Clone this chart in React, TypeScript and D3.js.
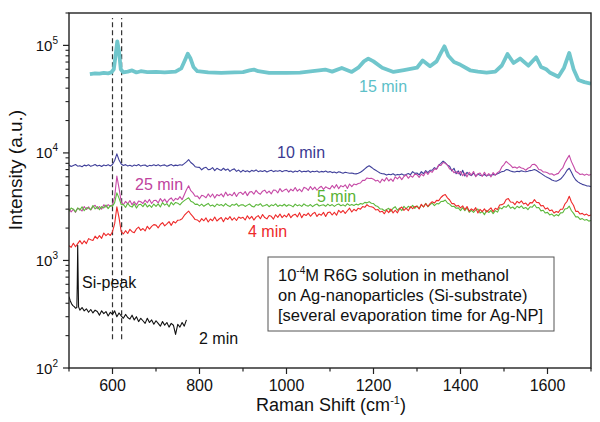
import React from 'react';
import * as d3 from 'd3';

// Raman shift grid for the thin spectra: 500, 505, ... 1700 (cm^-1)
const X_START = 500;
const X_STEP = 5;

const red4min = [
  1370,1325,1444,1342,1434,1530,1422,1519,1436,1596,1558,1533,1683,1593,1700,1606,1798,1701,1775,1707,
  1850,2200,3150,2500,1850,1764,1891,1781,1947,1853,1814,1965,2042,1905,1982,1881,2078,1956,2075,2155,
  2132,2009,2158,2246,2097,2185,2296,2119,2299,2231,2369,2380,2440,2620,2760,2880,2690,2560,2400,2380,
  2280,2450,2338,2486,2279,2428,2338,2536,2326,2428,2506,2295,2495,2404,2556,2367,2495,2354,2532,2464,
  2519,2377,2606,2438,2569,2375,2531,2612,2442,2675,2505,2435,2618,2573,2426,2662,2515,2701,2501,2636,
  2538,2726,2498,2634,2692,2541,2784,2500,2691,2618,2756,2576,2715,2801,2567,2707,2632,2800,2563,2785,
  2818,2648,2805,2632,2930,2782,2915,2736,2899,3063,2823,2989,2891,3060,3000,3170,3120,3300,3180,3160,
  3100,2950,2980,2820,2870,2716,2933,2783,3003,2765,2929,2774,3028,3138,2920,3060,2899,3162,3029,3172,
  3193,3010,3329,3141,3370,3177,3376,3512,3420,3620,3600,3850,4020,4100,3820,3650,3380,3380,3200,3250,
  3087,3224,2968,3171,2870,3019,2911,3095,2765,2987,2842,3021,2823,2949,3082,2832,3060,2979,3276,3303,
  3380,3680,3760,3500,3480,3300,3540,3420,3580,3350,3420,3240,3450,3430,3680,3460,3450,3220,3240,3010,
  3080,2900,2950,2760,2850,2800,2990,3000,3350,3550,3950,3500,3240,2860,2860,2700,2740,2640,2700,2600,2650,
];

const green5min = [
  2862,3078,3000,2831,3080,2940,3161,2899,3091,3070,2959,3244,3009,3172,2966,3162,3079,3276,3036,3234,
  3200,3450,4250,3800,3300,3315,3115,3402,3203,3133,3359,3069,3295,3327,3165,3397,3143,3277,3120,3348,
  3185,3360,3144,3451,3267,3378,3159,3470,3283,3463,3409,3285,3468,3600,3720,3830,3560,3480,3320,3340,
  3220,3340,3190,3300,3390,3210,3280,3160,3350,3250,3310,3200,3380,3240,3170,3320,3260,3370,3190,3290,
  3300,3180,3270,3350,3200,3140,3310,3260,3370,3190,3240,3320,3160,3290,3230,3360,3180,3280,3210,3330,
  3190,3300,3250,3150,3340,3220,3290,3180,3360,3240,3200,3310,3170,3280,3350,3210,3260,3300,3190,3340,
  3220,3310,3180,3290,3350,3230,3300,3200,3370,3250,3320,3240,3340,3280,3390,3340,3470,3430,3520,3400,
  3380,3220,3170,3010,3010,2900,2980,3054,2861,3055,3161,2934,3070,2902,3193,3023,3193,3084,3255,3051,
  3213,3043,3286,3146,3392,3153,3303,3416,3234,3380,3360,3530,3540,3650,3420,3340,3180,3190,3060,3080,
  2910,3099,2901,3087,2803,2929,2794,2946,3010,2764,2856,2665,2922,2792,2915,2726,2907,2813,3099,3020,
  3180,3120,3290,3060,3140,3010,3190,3090,3220,3040,3110,2970,3160,3130,3310,3090,3110,2890,2930,2760,
  2800,2650,2700,2580,2670,2600,2770,2780,3010,3040,3200,2900,2740,2540,2540,2410,2450,2370,2400,2320,2350,
];

const magenta25min = [
  3016,2829,2993,2803,3057,3015,2882,3170,2975,3145,2947,3149,3259,3027,3169,2997,3299,3125,3302,3191,
  3300,3900,6100,4700,3500,3298,3546,3352,3602,3302,3519,3287,3574,3515,3385,3640,3440,3696,3389,3611,
  3621,3424,3762,3528,3726,3451,3687,3814,3573,3774,3680,3920,3675,4080,4550,4950,4450,4250,3950,3980,
  3744,4032,3968,3826,4156,3894,4146,3802,4096,3991,4166,3898,4318,4007,4144,3994,4297,3940,4244,4301,
  4106,4372,4008,4318,4375,4134,4491,4248,4134,4406,4508,4219,4408,4159,4525,4495,4245,4658,4362,4510,
  4614,4314,4599,4433,4765,4415,4613,4352,4780,4702,4486,4871,4561,4808,4496,4744,4900,4584,4836,4707,
  4627,4981,4712,5069,4653,4963,4836,5051,4677,5141,4863,5130,5050,5200,5250,5560,5550,5850,5780,5800,
  5700,5480,5560,5280,5704,5464,5894,5481,5745,5439,5994,5742,6013,5640,6031,6248,5808,6146,5942,6344,
  6283,5920,6358,6111,6685,6304,6760,6600,7100,7050,7700,7650,8150,8000,7700,7100,7000,6550,6700,6400,
  6720,6134,6508,5988,6614,6223,6720,6014,6383,6499,6048,6615,6111,6426,5985,6562,6203,6560,6750,7400,
  7800,8350,8000,7700,7300,7400,7200,7450,7250,7150,6900,7200,7350,7800,7850,7550,7000,6950,6650,6650,
  6550,6350,6400,6200,6350,6450,6900,7250,8100,8800,9500,8300,7500,6750,6550,6300,6380,6200,6350,6200,6300,
];

const blue10min = [
  7720,7480,7650,7800,7530,7610,7440,7700,7580,7750,7500,7640,7810,7550,7680,7470,7720,7600,7780,7560,
  7800,8500,9800,8600,7900,7650,7780,7560,7690,7500,7720,7610,7800,7540,7670,7730,7480,7660,7590,7750,
  7600,7780,7550,7690,7740,7520,7660,7800,7580,7700,7620,7760,7680,7950,8250,8650,8150,7850,7450,7350,
  7344,6966,7234,7357,6982,7034,7299,6855,7189,7029,6870,7201,6902,7092,6726,6984,7103,6739,6927,6634,
  6900,6700,6820,6640,6880,6760,6950,6690,6810,6720,6870,6650,6790,6900,6700,6830,6740,6880,6680,6820,
  6850,6700,6780,6620,6800,6690,6880,6640,6760,6700,6820,6600,6740,6690,6800,6620,6730,6660,6780,6600,
  6700,6560,6650,6520,6680,6590,6470,6620,6530,6480,6500,6420,6380,6460,6600,6820,7100,7400,7600,7350,
  7100,6900,6700,6500,6400,6380,6220,6330,6260,6400,6200,6310,6250,6380,6190,6300,6420,6280,6700,6450,
  6500,6250,6700,6400,6850,6550,6900,6900,7300,7100,7700,8000,8400,8100,7700,7500,6800,7200,6400,6800,
  6200,6900,6100,6600,6300,6150,6500,6100,6350,6200,6150,6300,6100,6250,6200,6300,6250,6400,6550,6700,
  6750,7000,6950,6800,6700,6650,6750,6700,6820,6720,6680,6760,6850,6900,7000,6850,6650,6450,6250,6050,
  5900,5780,5600,5520,5450,5560,5720,6020,6400,6900,7200,6600,6000,5600,5380,5220,5100,5020,4940,4920,4860,
];

const black2min: [number, number][] = [
  [500,460],[503,420],[506,395],[509,380],[512,372],[515,360],[518,365],[519,600],[520,1380],[521,700],
  [522,370],[525,345],[530,365],[535,340],[540,355],[545,330],[550,350],[555,325],[560,345],[565,335],
  [570,310],[575,340],[580,320],[585,335],[590,305],[595,330],[600,315],[605,340],[610,300],[615,325],
  [620,305],[625,290],[630,315],[635,295],[640,285],[645,310],[650,280],[655,300],[660,270],[665,290],
  [670,275],[675,260],[680,290],[685,265],[690,280],[695,255],[700,275],[705,260],[710,245],[715,270],
  [720,250],[725,265],[730,240],[735,260],[740,250],[745,205],[750,255],[755,240],[760,265],[765,245],[770,280],
];

const cyan15min: [number, number][] = [
  [548,54000],[560,55000],[570,54500],[580,55500],[590,55000],[597,56000],[603,60000],[607,80000],[611,109000],
  [615,88000],[619,60000],[625,56000],[635,57000],[645,58500],[655,56000],[665,57500],[680,56500],[700,56600],
  [720,56000],[745,57000],[758,61000],[766,72000],[773,83700],[779,76000],[786,63000],[795,57500],[820,56000],
  [850,55500],[880,56000],[900,56500],[915,58500],[925,59600],[935,57500],[960,55500],[1000,55500],[1031,55900],
  [1060,57500],[1075,58500],[1089,59600],[1105,57000],[1127,61700],[1150,56600],[1165,62000],[1178,71000],
  [1188,75400],[1200,71000],[1220,62000],[1246,56600],[1270,59000],[1300,62000],[1313,72300],[1330,64000],
  [1345,71000],[1355,85000],[1363,98000],[1372,80000],[1385,70000],[1400,66000],[1422,58700],[1440,57000],
  [1460,55900],[1480,57000],[1495,65000],[1508,83000],[1522,68600],[1537,75400],[1556,64800],[1574,77500],
  [1585,63000],[1597,60000],[1605,56000],[1625,51000],[1638,62000],[1650,85000],[1660,60000],[1671,47700],
  [1685,45500],[1700,44000],
];

const xMajorTicks = [600, 800, 1000, 1200, 1400, 1600];
const xMinorTicks = [500, 700, 900, 1100, 1300, 1500, 1700];
const yMajorTicks = [100, 1000, 10000, 100000];
const yMajorExps = ['2', '3', '4', '5'];
const dashedPositions = [600, 621];
const dashedRange = [185, 180000];

const FONT = "'Liberation Sans', Arial, Helvetica, sans-serif";

export default function App() {
  const W = 600, H = 422;
  const L = 69, R = 591, T = 13, B = 368;
  const x = d3.scaleLinear().domain([500, 1700]).range([L, R]);
  const y = d3.scaleLog().domain([100, 200000]).range([B, T]);
  const line = d3.line<[number, number]>().x(d => x(d[0])).y(d => y(d[1]));
  const grid = (arr: number[]) => arr.map((v, i) => [X_START + i * X_STEP, v] as [number, number]);

  const yMinor: number[] = [];
  for (let e = 2; e <= 5; e++) {
    for (let k = 2; k <= 9; k++) {
      const v = k * Math.pow(10, e);
      if (v <= 200000) yMinor.push(v);
    }
  }

  const thin = [
    { d: grid(blue10min), c: '#40409a' },
    { d: grid(magenta25min), c: '#c64aa6' },
    { d: grid(green5min), c: '#5cb83c' },
    { d: grid(red4min), c: '#ee2a2a' },
    { d: black2min, c: '#111111' },
  ];

  return (
    <svg width={W} height={H} style={{ position: 'absolute', left: 0, top: 0, background: '#fff' }} fontFamily={FONT}>
      <rect x={0} y={0} width={W} height={H} fill="#fff" />
      <defs>
        <clipPath id="plot"><rect x={L} y={T} width={R - L} height={B - T} /></clipPath>
      </defs>
      {dashedPositions.map(p => (
        <line key={p} x1={x(p)} x2={x(p)} y1={y(dashedRange[0])} y2={y(dashedRange[1])}
          stroke="#333" strokeWidth={1.2} strokeDasharray="5,3" />
      ))}
      <g clipPath="url(#plot)">
        <path d={line(cyan15min) || ''} fill="none" stroke="#70c6cc" strokeWidth={3.8} strokeLinejoin="round" />
        {thin.map((s, i) => (
          <path key={i} d={line(s.d) || ''} fill="none" stroke={s.c} strokeWidth={1.1} strokeLinejoin="round" />
        ))}
      </g>
      <rect x={L} y={T} width={R - L} height={B - T} fill="none" stroke="#222" strokeWidth={1.4} />
      {xMajorTicks.map(t => (
        <g key={t}>
          <line x1={x(t)} x2={x(t)} y1={B} y2={B + 6} stroke="#222" strokeWidth={1.2} />
          <text x={x(t)} y={391} textAnchor="middle" fontSize={16} fill="#111">{t}</text>
        </g>
      ))}
      {xMinorTicks.map(t => (
        <line key={t} x1={x(t)} x2={x(t)} y1={B} y2={B + 3.5} stroke="#222" strokeWidth={1.2} />
      ))}
      {yMajorTicks.map((t, i) => (
        <g key={t}>
          <line x1={L - 6} x2={L} y1={y(t)} y2={y(t)} stroke="#222" strokeWidth={1.2} />
          <text x={58} y={y(t) + 5.5} textAnchor="end" fontSize={15} fill="#111">
            10<tspan dy={-7} fontSize={10}>{yMajorExps[i]}</tspan>
          </text>
        </g>
      ))}
      {yMinor.map(t => (
        <line key={t} x1={L - 3.5} x2={L} y1={y(t)} y2={y(t)} stroke="#222" strokeWidth={1.1} />
      ))}
      <text x={331} y={411} textAnchor="middle" fontSize={18} fill="#111">
        Raman Shift (cm<tspan dy={-7} fontSize={11}>-1</tspan><tspan dy={7}>)</tspan>
      </text>
      <text transform="translate(22,170) rotate(-90)" textAnchor="middle" fontSize={19} fill="#111">Intensity (a.u.)</text>
      <text x={359} y={92} fontSize={16} fill="#5cc0c8">15 min</text>
      <text x={277} y={158} fontSize={16} fill="#3a3a92">10 min</text>
      <text x={135} y={190} fontSize={16} fill="#c0439e">25 min</text>
      <text x={317} y={202} fontSize={16} fill="#58b232">5 min</text>
      <text x={248} y={237} fontSize={16} fill="#ee2a2a">4 min</text>
      <text x={82} y={288} fontSize={16} fill="#111">Si-peak</text>
      <text x={199} y={344} fontSize={16} fill="#111">2 min</text>
      <rect x={268} y={257} width={286} height={74} fill="#fff" stroke="#555" strokeWidth={1} />
      <text x={278} y={281} fontSize={16.5} fill="#111">
        10<tspan dy={-7} fontSize={10}>-4</tspan><tspan dy={7}>M R6G solution in methanol</tspan>
      </text>
      <text x={278} y={301} fontSize={16.5} fill="#111">on Ag-nanoparticles (Si-substrate)</text>
      <text x={278} y={321} fontSize={16.5} fill="#111">[several evaporation time for Ag-NP]</text>
    </svg>
  );
}
